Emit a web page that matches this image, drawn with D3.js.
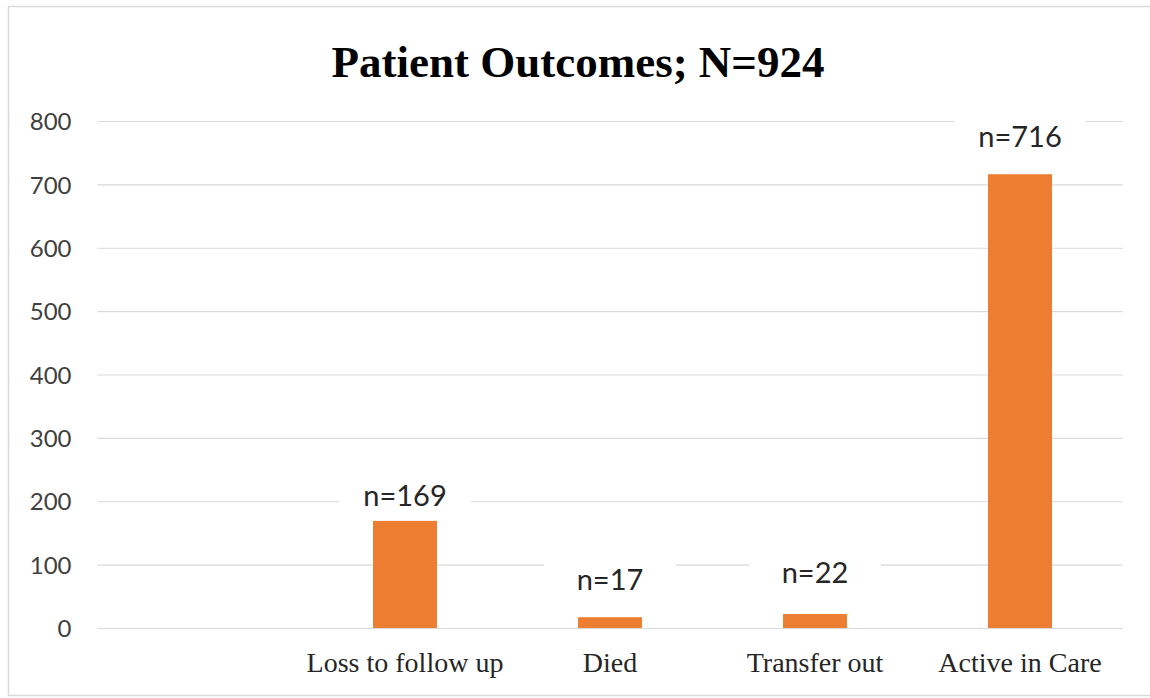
<!DOCTYPE html>
<html>
<head>
<meta charset="utf-8">
<script src="https://cdn.jsdelivr.net/npm/d3@7"></script>
<style>
  html, body { margin: 0; padding: 0; background: #fff; }
  svg { display: block; }
</style>
</head>
<body>
<svg id="chart" width="1150" height="698"></svg>
<script>
// ── Data ──────────────────────────────────
// first slot is an empty category in the original sheet
const categories  = ['', 'Loss to follow up', 'Died', 'Transfer out', 'Active in Care'];
const values      = [null, 169, 17, 22, 716];
const labels      = ['', 'n=169', 'n=17', 'n=22', 'n=716'];
const yTicks      = [0, 100, 200, 300, 400, 500, 600, 700, 800];
const titleText   = 'Patient Outcomes; N=924';

// ── Layout ────────────────────────────────
const W = 1150, H = 698;
const plot = { left: 97.5, right: 1122.5, top: 121, bottom: 628 };
const BAR = '#ED7D31';
const GRID = '#d9d9d9';
const labelGap = [0, 15, 27, 31, 27];   // text boxes were hand-placed in the source

const svg = d3.select('#chart');

// outer frame
svg.append('rect')
  .attr('x', 8.5).attr('y', 6.5)
  .attr('width', W + 10).attr('height', 689)
  .attr('fill', '#fff')
  .attr('stroke', '#d9d9d9').attr('stroke-width', 1.5);

const x = d3.scaleBand()
  .domain(categories)
  .range([plot.left, plot.right])
  .paddingInner(0.688)
  .paddingOuter(0.344);

const y = d3.scaleLinear()
  .domain([0, 800])
  .range([plot.bottom, plot.top]);

// ── Title ─────────────────────────────────
svg.append('text')
  .attr('x', 578).attr('y', 77)
  .attr('text-anchor', 'middle')
  .attr('font-family', '"Liberation Serif", "Times New Roman", serif')
  .attr('font-weight', 'bold')
  .attr('font-size', 45)
  .attr('fill', '#000')
  .text(titleText);

// ── Y axis (gridlines + labels) ───────────
const yAxis = d3.axisLeft(y)
  .tickValues(yTicks)
  .tickSize(-(plot.right - plot.left))
  .tickPadding(26)
  .tickFormat(d3.format('d'));

const gy = svg.append('g')
  .attr('transform', `translate(${plot.left},0)`)
  .call(yAxis);
gy.select('.domain').remove();
gy.selectAll('.tick line')
  .attr('stroke', GRID).attr('stroke-width', 1.2);
gy.selectAll('.tick text')
  .attr('font-family', 'Lato, "Open Sans", sans-serif')
  .attr('font-size', 24)
  .attr('fill', '#404040')
  .attr('dy', '0.36em');

// ── Bars ──────────────────────────────────
const rows = categories.map((c, i) => ({ c, v: values[i], lab: labels[i], gap: labelGap[i] }))
  .filter(d => d.v != null);

svg.append('g').selectAll('rect')
  .data(rows)
  .join('rect')
  .attr('x', d => x(d.c))
  .attr('y', d => y(d.v))
  .attr('width', x.bandwidth())
  .attr('height', d => y(0) - y(d.v))
  .attr('fill', BAR);

// ── Value labels (white boxes hide the gridlines behind them) ──
const gl = svg.append('g').selectAll('g')
  .data(rows)
  .join('g')
  .attr('transform', d => `translate(${x(d.c) + x.bandwidth() / 2},${y(d.v) - d.gap})`);

gl.append('rect')
  .attr('x', -66).attr('y', -28)
  .attr('width', 132).attr('height', 34)
  .attr('fill', '#fff');

gl.append('text')
  .attr('text-anchor', 'middle')
  .attr('font-family', 'Lato, "Open Sans", sans-serif')
  .attr('font-size', 29)
  .attr('fill', '#262626')
  .text(d => d.lab);

// ── Category labels ───────────────────────
const xAxis = d3.axisBottom(x).tickSize(0).tickPadding(0);
const gx = svg.append('g')
  .attr('transform', `translate(0,${plot.bottom})`)
  .call(xAxis);
gx.select('.domain').remove();
gx.selectAll('.tick text')
  .attr('y', 44)
  .attr('dy', 0)
  .attr('font-family', '"Liberation Serif", "Times New Roman", serif')
  .attr('font-size', 28)
  .attr('fill', '#262626');
</script>
</body>
</html>
